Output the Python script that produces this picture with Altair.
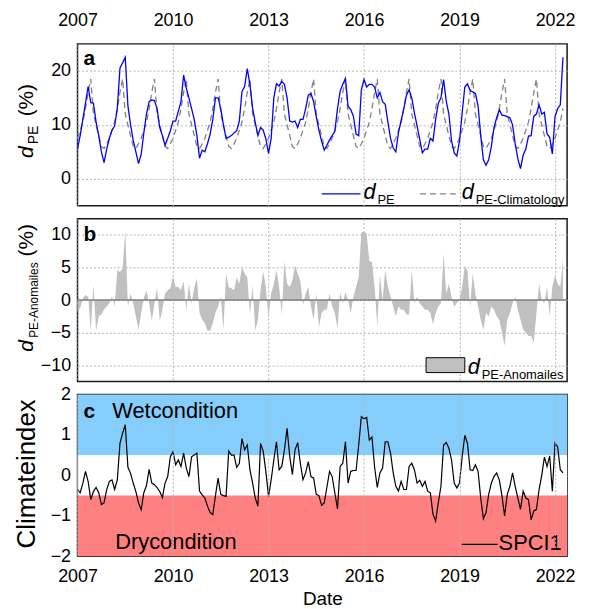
import altair as alt
import pandas as pd

FONT = "Liberation Sans"
GRID = "#b4b4b4"

YEAR_TICKS = [2007, 2010, 2013, 2016, 2019, 2022]
START_YEAR = 2007

# monthly climatology of d_PE (Jan..Dec), %
CLIM_MONTHLY = [7.5, 9.0, 10.5, 13.0, 16.0, 18.5, 12.0, 10.0, 8.0, 6.0, 5.6, 6.5]

# d_PE (%), monthly Jan 2007 .. Apr 2022
DPE = [
    5.6, 8.0, 11.0, 14.0, 17.1, 14.1, 14.0, 10.5, 8.0, 5.0, 3.0, 5.5,
    7.5, 9.0, 9.8, 13.0, 20.5, 21.5, 22.5, 13.5, 10.0, 7.1, 5.0, 2.8,
    4.5, 8.5, 12.0, 14.3, 14.6, 14.5, 13.0, 9.5, 8.0, 6.2, 7.5, 8.9,
    10.7, 10.7, 12.5, 14.3, 19.2, 16.8, 15.0, 13.0, 11.0, 8.0, 3.8, 5.3,
    5.0, 6.5, 8.3, 11.0, 15.0, 15.0, 13.0, 10.0, 7.5, 7.7, 8.0, 8.5,
    8.9, 10.7, 16.2, 17.1, 20.4, 17.4, 13.1, 10.4, 8.0, 9.5, 9.0, 7.4,
    4.7, 7.5, 15.0, 17.6, 17.2, 18.0, 17.5, 15.0, 10.7, 10.5, 10.7, 9.5,
    11.0, 11.0, 13.0, 15.5, 15.8, 14.3, 11.5, 9.0, 7.0, 5.3, 6.2, 7.2,
    8.0, 8.8, 13.0, 16.2, 17.5, 18.6, 13.4, 12.8, 11.6, 8.3, 8.0, 16.5,
    18.4, 17.0, 17.5, 17.5, 17.0, 15.0, 16.0, 14.3, 13.8, 10.5, 7.5, 5.7,
    5.0, 8.6, 10.8, 13.0, 15.5, 16.5, 15.0, 12.2, 9.8, 7.3, 4.8, 5.5,
    5.5, 7.5, 7.0, 11.0, 14.0, 15.0, 18.4, 14.4, 12.0, 7.0, 4.8, 4.2,
    7.0, 12.2, 17.0, 17.6, 16.3, 16.1, 15.8, 13.5, 8.0, 3.5, 2.5, 3.5,
    6.0, 9.5, 11.3, 12.8, 11.8, 11.7, 11.5, 11.3, 10.0, 6.5, 3.7, 1.9,
    4.4, 5.5, 7.9, 8.0, 11.6, 12.0, 13.7, 12.0, 12.3, 8.3, 7.7, 4.6,
    11.5, 13.0, 13.7, 22.5,
]

# d_PE anomalies (%)
ANOM = [
    -1.7, -1.2, 0.3, 0.8, 0.5, -4.7, 2.3, -4.7, -2.5, -2.2, -1.5, -1.0,
    -0.5, 0.6, -1.0, 4.6, 4.3, 4.8, 10.7, -1.0, 1.0, -0.5, -2.5, -4.5,
    -2.0, 0.3, 1.5, -0.5, -3.2, -0.5, 1.9, -3.2, -1.5, 1.0, 1.5, 1.8,
    3.6, 2.0, 2.0, 1.5, 2.9, -1.5, 2.5, -0.5, 1.9, 3.3, -2.0, -3.0,
    -3.5, -4.7, -4.7, -3.5, -2.0, -1.0, 0.5, -4.5, 4.1, 2.0, 1.8, 1.5,
    3.5, 2.5, 5.1, 4.1, 3.5, -2.2, 2.3, -4.7, -3.0, 1.5, 4.4, 2.0,
    -2.7, 1.0, 2.5, 4.6, 2.0, -2.2, 6.0, 2.5, 2.0, 3.0, 5.3, 4.1,
    3.0, -0.8, 1.0, 2.0, -1.0, -3.0, 1.0, -4.2, -2.0, -1.5, -1.5, 1.0,
    -1.0, -2.0, -4.3, 1.2, -0.5, 1.2, 0.0, -2.0, 0.5, 2.0, 3.5, 10.4,
    10.5, 10.2, 6.0, 5.8, 2.0, -4.0, 3.8, 0.0, 4.6, 2.0, 0.5, -1.0,
    -2.5, -1.0, -1.5, -1.5, -2.2, -2.2, 4.6, -0.5, 0.5, -0.5, -1.0, -1.5,
    -1.5, -2.0, -3.7, -2.0, -1.0, -0.5, 7.1, 1.0, 2.5, 0.5, -1.0, -0.5,
    0.0, 2.0, 5.3, 4.5, -1.0, 4.1, 1.0, -1.0, -3.0, -4.5, -2.0, -2.5,
    -1.0, -1.5, -2.5, -3.0, -5.0, -7.0, -3.0, -2.0, -0.5, 0.5, -1.5, -3.0,
    -4.5, -5.0, -5.5, -5.5, -6.5, -2.0, 2.5, 0.0, -0.5, 2.0, -2.5, 2.0,
    3.8, 2.5, 2.0, 6.1,
]

# SPCI1 climate index
SPCI = [
    -0.35, -0.43, -0.2, 0.1, -0.15, -0.6, -0.4, -0.3, -0.43, -0.72, -0.68, -0.35,
    -0.15, -0.11, -0.35, -0.11, 0.79, 1.04, 1.25, 0.2, 0.05, -0.19, -0.4, -0.68,
    -0.85, -0.43, -0.25, 0.15, -0.19, -0.23, -0.3, -0.4, -0.55, -0.19, -0.03, 0.46,
    0.59, 0.26, 0.38, 0.22, 0.55, 0.18, -0.03, 0.46, 0.5, 0.55, -0.39, -0.48,
    -0.56, -0.76, -0.92, -0.97, -0.5, -0.07, -0.47, -0.5, -0.52, 0.6, 0.5, 0.5,
    0.2, 0.3, 0.91, 0.63, 0.75, 0.14, -0.19, -0.56, -0.76, 0.79, 0.59, 0.1,
    -0.52, -0.11, 0.38, 0.83, 0.14, 0.22, 0.63, 1.16, 0.47, 0.02, 0.63, 0.81,
    0.3, -0.11, 0.06, 0.34, -0.03, -0.07, -0.47, -0.5, -0.74, -0.68, -0.3, 0.1,
    -0.03, -0.43, -0.83, 0.22, 0.3, 0.83, -0.19, 0.1, 0.12, 0.12, 0.75, 1.45,
    1.4, 1.43, 0.87, 0.95, 0.2, -0.3, 0.06, 0.18, 0.83, 0.83, 0.55, 0.06,
    -0.27, -0.39, -0.15, -0.35, -0.35, 0.22, 0.3, 0.14, -0.19, -0.12, -0.27, -0.15,
    -0.39, -0.43, -0.96, -1.13, -0.68, -0.27, 0.75, 0.81, 0.67, 0.38, -0.19, -0.31,
    -0.19, 0.46, 0.99, 0.79, 0.14, 0.12, 0.26, 0.1, -0.56, -1.07, -0.92, -0.47,
    -0.19, -0.03, 0.06, -0.11, -0.5, -1.0, -0.47, -0.27, 0.06, -0.27, -0.56, -0.84,
    -0.39, -0.56, -0.6, -1.1, -0.88, -0.84, -0.35, 0.0, 0.45, 0.22, 0.48, -0.39,
    0.8, 0.7, 0.14, 0.06,
]

BAND_LO = [0.5, -0.5, -2.0]
BAND_HI = [2.0, 0.5, -0.5]
BAND_COLORS = ["#85cdfa", "#ffffff", "#ff8080"]

n = len(DPE)
df = pd.DataFrame({
    "t": [START_YEAR + i / 12 for i in range(n)],
    "dpe": DPE,
    "clim": [CLIM_MONTHLY[i % 12] for i in range(n)],
    "anom": ANOM,
    "spci": SPCI,
})
bands = pd.DataFrame({"lo": BAND_LO, "hi": BAND_HI, "col": BAND_COLORS})
one = pd.DataFrame({"k": [0]})

W = 493
HA, HB, HC = 163, 164, 163

xs = alt.Scale(domain=[2007, 2022.38], nice=False, zero=False)

def xaxis(**kw):
    base = dict(values=YEAR_TICKS, format="d", grid=True, gridDash=[2, 2],
                gridColor=GRID, gridWidth=1, ticks=False, tickSize=0, domain=False,
                labelFont=FONT, labelFontSize=18, labelColor="black", title=None,
                labelFlush=False)
    base.update(kw)
    return alt.Axis(**base)

def yaxis(values, grid=True):
    return alt.Axis(values=values, grid=grid, gridDash=[2, 2], gridColor=GRID,
                    gridWidth=1, ticks=False, tickSize=0, domain=False,
                    labelFont=FONT, labelFontSize=18, labelColor="black",
                    labelPadding=7, title=None)

def txt(s, x, y, size, **kw):
    return alt.Chart(one).mark_text(text=s, font=FONT, fontSize=size, color="black",
                                     **kw).encode(x=alt.value(x), y=alt.value(y))

def hline(x1, x2, y, **kw):
    return alt.Chart(one).mark_rule(**kw).encode(
        x=alt.value(x1), x2=alt.value(x2), y=alt.value(y))

ROT = dict(angle=270, align="left", baseline="alphabetic")

# ---------- panel a ----------
ysa = alt.Scale(domain=[-5, 25], nice=False, zero=False)
xa = alt.X("t:Q", scale=xs, axis=xaxis(orient="top", labelPadding=15))
clim_line = alt.Chart(df).mark_line(color="#808080", strokeDash=[6, 4], strokeWidth=1.3).encode(
    x=xa, y=alt.Y("clim:Q", scale=ysa, axis=yaxis([0, 10, 20])))
dpe_line = alt.Chart(df).mark_line(color="#0000ff", strokeWidth=1.3).encode(
    x=alt.X("t:Q", scale=xs), y=alt.Y("dpe:Q", scale=ysa))

panel_a = alt.layer(
    clim_line, dpe_line,
    txt("a", 6, 21, 21, fontWeight="bold", align="left", baseline="alphabetic"),
    hline(246, 285, 151, color="#0000ff", strokeWidth=1.3),
    txt("d", 288, 156, 22, fontStyle="italic", align="left", baseline="alphabetic"),
    txt("PE", 302, 161, 13, align="left", baseline="alphabetic"),
    hline(345, 384, 151, color="#808080", strokeWidth=1.3, strokeDash=[6, 4]),
    txt("d", 387, 156, 22, fontStyle="italic", align="left", baseline="alphabetic"),
    txt("PE-Climatology", 401, 161, 13, align="left", baseline="alphabetic"),
    txt("d", -45, 115, 21, fontStyle="italic", **ROT),
    txt("PE", -40, 101, 14, **ROT),
    txt("(%)", -45, 73, 21, **ROT),
).properties(width=W, height=HA)

# ---------- panel b ----------
ysb = alt.Scale(domain=[-12.5, 12.5], nice=False, zero=False)
area = alt.Chart(df).mark_area(color="#c0c0c0", opacity=1).encode(
    x=alt.X("t:Q", scale=xs, axis=xaxis(labels=False)),
    y=alt.Y("anom:Q", scale=ysb, axis=yaxis([-10, -5, 0, 5, 10])),
    y2=alt.datum(0))
zero_rule = alt.Chart(one).mark_rule(color="#808080", strokeWidth=1.5).encode(
    y=alt.datum(0))

panel_b = alt.layer(
    area, zero_rule,
    txt("b", 6, 23, 21, fontWeight="bold", align="left", baseline="alphabetic"),
    alt.Chart(one).mark_rect(fill="#c0c0c0", stroke="black", strokeWidth=1).encode(
        x=alt.value(351), x2=alt.value(390), y=alt.value(140), y2=alt.value(155)),
    txt("d", 393, 156, 22, fontStyle="italic", align="left", baseline="alphabetic"),
    txt("PE-Anomailes", 407, 161, 13, align="left", baseline="alphabetic"),
    txt("d", -45, 134, 21, fontStyle="italic", **ROT),
    txt("PE-Anomailes", -40, 120, 12, **ROT),
    txt("(%)", -45, 38, 21, **ROT),
).properties(width=W, height=HB)

# ---------- panel c ----------
ysc = alt.Scale(domain=[-2, 2], nice=False, zero=False)
band_layer = alt.Chart(bands).mark_rect().encode(
    x=alt.value(0), x2=alt.value(W),
    y=alt.Y("lo:Q", scale=ysc, axis=yaxis([-2, -1, 0, 1, 2], grid=False)),
    y2="hi:Q",
    color=alt.Color("col:N", scale=None))
spci_line = alt.Chart(df).mark_line(color="black", strokeWidth=1.2).encode(
    x=alt.X("t:Q", scale=xs, axis=xaxis(orient="bottom", labelPadding=11, zindex=1,
                                        title="Date", titleFont=FONT, titleFontSize=19,
                                        titleFontWeight="normal", titleColor="black",
                                        titlePadding=5)),
    y=alt.Y("spci:Q", scale=ysc))

panel_c = alt.layer(
    band_layer, spci_line,
    txt("c", 6, 24, 21, fontWeight="bold", align="left", baseline="alphabetic"),
    txt("Wetcondition", 35, 24, 22, align="left", baseline="alphabetic"),
    txt("Drycondition", 38, 156, 22, align="left", baseline="alphabetic"),
    hline(387, 423, 151, color="black", strokeWidth=1.2),
    txt("SPCI1", 424, 157, 22, align="left", baseline="alphabetic"),
    txt("Climateindex", -43, 80, 26, angle=270, align="center", baseline="alphabetic"),
).properties(width=W, height=HC)

chart = alt.vconcat(panel_a, panel_b, panel_c, spacing=13, bounds="flush").configure_view(
    stroke="#1a1a1a", strokeWidth=1.5
).properties(padding={"left": 5, "top": 0, "right": 5, "bottom": 5})

chart.save("out.html", embed_options={"renderer": "svg", "actions": False})
